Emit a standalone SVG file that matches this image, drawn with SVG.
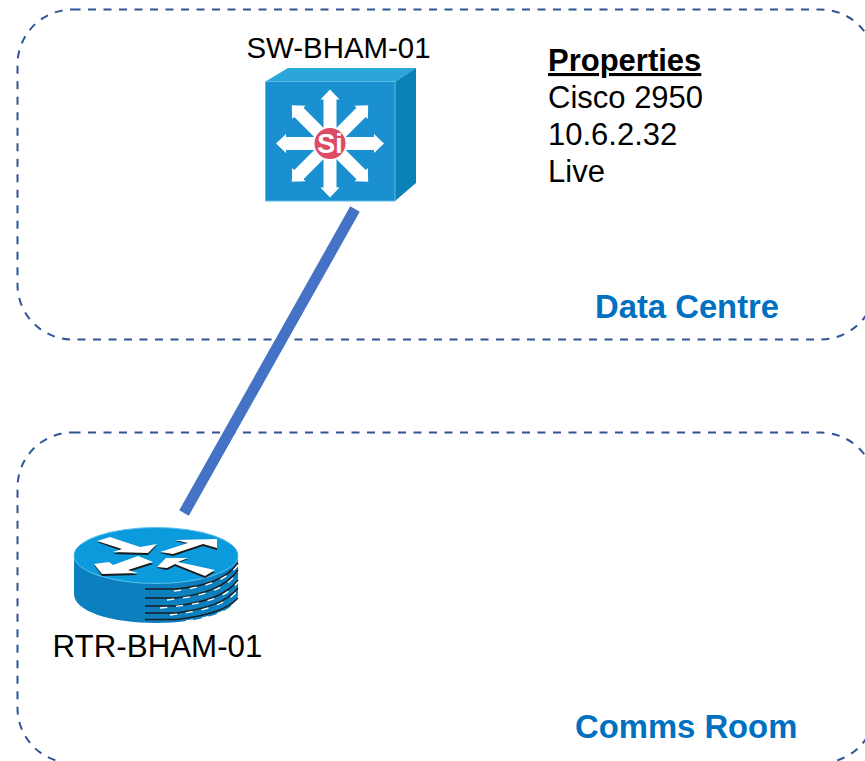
<svg xmlns="http://www.w3.org/2000/svg" width="865" height="761" viewBox="0 0 865 761">
<defs>
<style>
.zone{fill:none;stroke:#2F5597;stroke-width:2;stroke-dasharray:8 7.5}
.t{font-family:"Liberation Sans",Arial,sans-serif;font-size:31px;fill:#000}
.z{font-family:"Liberation Sans",Arial,sans-serif;font-size:32.800px;font-weight:bold;fill:#0070C0}
.w{fill:#fff}
.s{stroke:#1e1e1e;stroke-width:1.500;fill:none}
.h{stroke:#fff;stroke-width:1.300;fill:none;stroke-dasharray:7 9}
</style>
<polygon id="a" class="w" points="-6.500,-14 -6.500,-44 -9.500,-44 0,-54 9.500,-44 6.500,-44 6.500,-14"/>
</defs>
<g id="zones">
<rect id="zone-data-centre" class="zone" x="17.500" y="9.500" width="858" height="330" rx="55" ry="55"/>
<rect id="zone-comms-room" class="zone" x="17.500" y="432.500" width="858" height="330.500" rx="55" ry="55"/>
</g>
<g id="connectors">
<line x1="355" y1="209" x2="184" y2="513" stroke="#4472C4" stroke-width="11"/>
</g>
<g id="node-switch">
<polygon points="265.500,81.500 288,68 416,68 395,81.500" fill="#2BA6DA"/>
<polygon points="395,81.500 416,68 416,183 395,201" fill="#0A82B8"/>
<rect x="265.500" y="81.500" width="129.500" height="119.500" fill="#1B90D0" stroke="#5BBCE8" stroke-width="1"/>
<g transform="translate(330,143.500)">
<use href="#a"/>
<use href="#a" transform="rotate(45)"/>
<use href="#a" transform="rotate(90)"/>
<use href="#a" transform="rotate(135)"/>
<use href="#a" transform="rotate(180)"/>
<use href="#a" transform="rotate(225)"/>
<use href="#a" transform="rotate(270)"/>
<use href="#a" transform="rotate(315)"/>
<circle r="15.500" fill="#DD4A63"/>
<text x="0" y="9.500" text-anchor="middle" font-family="Liberation Sans,Arial,sans-serif" font-size="27" font-weight="bold" fill="#fff">Si</text>
</g>
<text class="t" x="338.500" y="58" text-anchor="middle" style="font-size:29.400px">SW-BHAM-01</text>
</g>
<g id="node-router">
<path d="M74,556V594C74,611 110,623 156,623S238,611 238,594V556Z" fill="#0C7FBE"/>
<ellipse cx="156" cy="555.500" rx="82" ry="28" fill="#0B9ADB" stroke="#5CC2EE" stroke-width="1"/>
<g class="s">
<path d="M145,589H176C205,586 226,580 238,563"/>
<path d="M145,598H176C205,594 226,587 238,570"/>
<path d="M145,606H176C205,602 226,596 238,580"/>
<path d="M145,613H176C205,609 226,603 238,588"/>
<path d="M145,619.500H176C205,616 226,611 238,598"/>
</g>
<g class="h">
<path d="M174,591C205,587 226,581 238,565"/>
<path d="M167,600C205,596 226,589 238,572"/>
<path d="M160,608C205,604 226,598 238,582"/>
<path d="M170,615C205,611 226,605 238,590"/>
<path d="M186,621C207,618 226,613 238,600"/>
</g>
<polygon points="97,542 110,538 140,548 157,545 148,555 113,554 122,551" fill="#1a1a1a"/>
<polygon points="97,541 110,537 140,547 157,544 148,553 113,552 122,549" class="w"/>
<polygon points="160,553 188,544 175,541 217,540 217,550 203,546 173,556" fill="#1a1a1a"/>
<polygon points="160,552 188,543 175,540 217,539 217,548 203,544 173,554" class="w"/>
<polygon points="94,565 102,576 138,575 128,572 153,564 138,558 113,567 109,564" fill="#1a1a1a"/>
<polygon points="94,564 102,574 138,573 128,570 153,562 138,556 113,565 109,562" class="w"/>
<polygon points="157,568 166,559 188,559 178,563 215,572 205,578 175,566 167,570" fill="#1a1a1a"/>
<polygon points="157,567 166,558 188,558 178,562 215,570 205,576 175,564 167,568" class="w"/>
<text class="t" x="157.500" y="657" text-anchor="middle" style="font-size:31.300px">RTR-BHAM-01</text>
</g>
<g id="properties">
<text class="t" x="548" y="71" font-weight="bold" text-decoration="underline">Properties</text>
<text class="t" x="548" y="108">Cisco 2950</text>
<text class="t" x="548" y="145">10.6.2.32</text>
<text class="t" x="548" y="182">Live</text>
</g>
<text class="z" x="595" y="318">Data Centre</text>
<text class="z" x="575" y="738">Comms Room</text>
</svg>
